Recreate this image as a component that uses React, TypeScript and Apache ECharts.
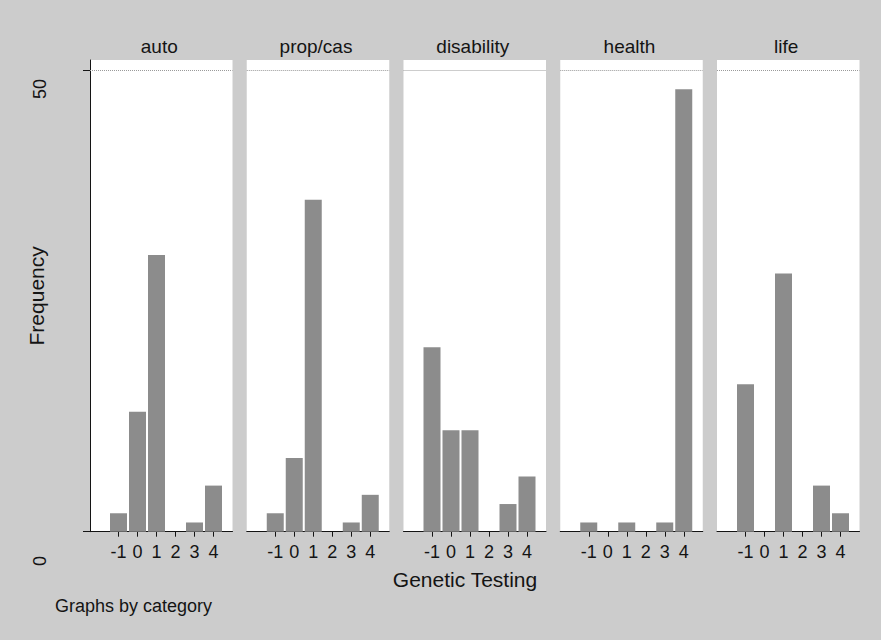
import React, { useEffect, useRef } from "react";
import * as echarts from "echarts";

// Data
const values = [-1, 0, 1, 2, 3, 4];
const panelNames = ["auto", "prop/cas", "disability", "health", "life"];
const autoFreq = [2, 13, 30, 0, 1, 5];
const propCasFreq = [2, 8, 36, 0, 1, 4];
const disabilityFreq = [20, 11, 11, 0, 3, 6];
const healthFreq = [1, 0, 1, 0, 1, 48];
const lifeFreq = [16, 0, 28, 0, 5, 2];
const yTicks = [0, 50];

const FONT = "'Liberation Sans', Arial, Helvetica, sans-serif";
const BG = "#cccccc";
const BAR = "#8c8c8c";
const INK = "#141414";

export default function App() {
  const ref = useRef<HTMLDivElement>(null);
  useEffect(() => {
    if (!ref.current) return;
    const chart = echarts.init(ref.current, undefined, { renderer: "svg" });
    const freqs = [autoFreq, propCasFreq, disabilityFreq, healthFreq, lifeFreq];

    const panelLeft0 = 90;
    const stride = 156.75;
    const panelW = 142.5;
    const top = 60;
    const baseY = 531.7;
    const bottom = 640 - baseY;
    const gridTop50 = 70.7;
    const yMax = yTicks[1] * (baseY - top) / (baseY - gridTop50);

    const grids: any[] = [];
    const xAxes: any[] = [];
    const yAxes: any[] = [];
    const series: any[] = [];
    const titles: any[] = [];

    panelNames.forEach((name, i) => {
      const left = panelLeft0 + i * stride;
      grids.push({
        left,
        width: panelW,
        top,
        bottom,
        show: true,
        backgroundColor: "#ffffff",
        borderWidth: 0,
      });
      xAxes.push({
        type: "value",
        gridIndex: i,
        min: -2.5,
        max: 5,
        axisLine: { show: true, onZero: false, lineStyle: { color: INK, width: 1 } },
        axisTick: {
          show: true,
          customValues: values,
          length: 5,
          lineStyle: { color: INK, width: 1 },
        },
        axisLabel: {
          show: true,
          customValues: values,
          fontSize: 18,
          margin: 11,
          color: INK,
          fontFamily: FONT,
        },
        splitLine: { show: false },
      });
      yAxes.push({
        type: "value",
        gridIndex: i,
        min: 0,
        max: yMax,
        axisLine: { show: i === 0, onZero: false, lineStyle: { color: INK, width: 1 } },
        axisTick: {
          show: i === 0,
          customValues: yTicks,
          length: 7,
          lineStyle: { color: INK, width: 1 },
        },
        axisLabel: { show: false },
        splitLine: { show: false },
        name: i === 0 ? "Frequency" : "",
        nameLocation: "middle",
        nameRotate: 90,
        nameGap: 43,
        nameTextStyle: { fontSize: 21, color: INK, fontFamily: FONT },
      });
      series.push({
        type: "bar",
        xAxisIndex: i,
        yAxisIndex: i,
        barWidth: 17,
        itemStyle: { color: BAR },
        data: values.map((v, k) => [v, freqs[i][k]]),
        markLine: {
          silent: true,
          symbol: "none",
          label: { show: false },
          lineStyle: { type: "dotted", color: "#9a9a9a", width: 1 },
          data: [{ yAxis: yTicks[1] }],
        },
      });
      titles.push({
        text: name,
        left: left + panelW / 2 - 2,
        top: 36,
        padding: 0,
        textAlign: "center",
        textStyle: {
          fontSize: 19,
          fontWeight: "normal",
          color: INK,
          fontFamily: FONT,
          lineHeight: 20,
        },
      });
    });

    // helper axis carrying the outer y labels (0 and 50)
    grids.push({ left: 60, width: 10, top: 89, bottom: 79, show: false });
    xAxes.push({ type: "value", gridIndex: 5, show: false, min: 0, max: 1 });
    yAxes.push({
      type: "value",
      gridIndex: 5,
      min: yTicks[0],
      max: yTicks[1],
      interval: yTicks[1] - yTicks[0],
      axisLine: { show: false, onZero: false },
      axisTick: { show: false },
      splitLine: { show: false },
      axisLabel: {
        show: true,
        rotate: 90,
        margin: 11,
        fontSize: 18,
        color: INK,
        fontFamily: FONT,
      },
    });

    titles.push({
      text: "Genetic Testing",
      left: 465,
      top: 568,
      padding: 0,
      textAlign: "center",
      textStyle: { fontSize: 21, fontWeight: "normal", color: INK, fontFamily: FONT, lineHeight: 22 },
    });
    titles.push({
      text: "Graphs by category",
      left: 55,
      top: 596,
      padding: 0,
      textStyle: { fontSize: 18, fontWeight: "normal", color: INK, fontFamily: FONT, lineHeight: 20 },
    });

    chart.setOption({
      animation: false,
      backgroundColor: BG,
      title: titles,
      grid: grids,
      xAxis: xAxes,
      yAxis: yAxes,
      series,
    });
    return () => chart.dispose();
  }, []);
  return (
    <div
      ref={ref}
      style={{ position: "absolute", left: 0, top: 0, width: 881, height: 640 }}
    />
  );
}
